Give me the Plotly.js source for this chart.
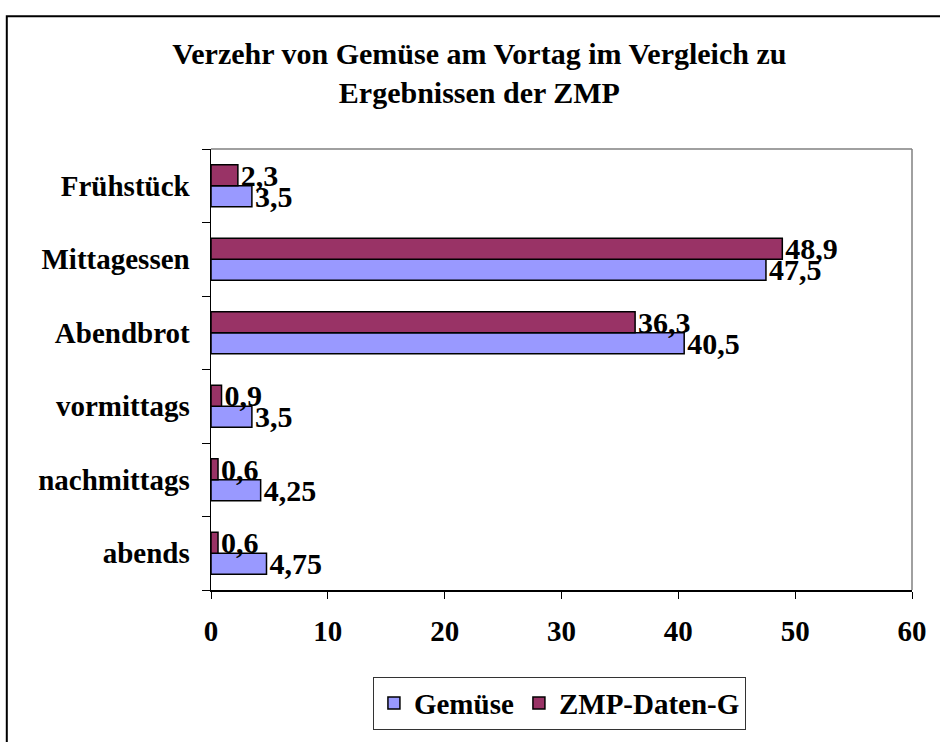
<!DOCTYPE html>
<html>
<head>
<meta charset="utf-8">
<script src="https://cdn.plot.ly/plotly-3.0.1.min.js"></script>
<style>html,body{margin:0;padding:0;background:#fff;}#chart{width:940px;height:742px;}</style>
</head>
<body>
<div id="chart"></div>
<script>
var categories = ["Frühstück", "Mittagessen", "Abendbrot", "vormittags", "nachmittags", "abends"];
var gemuese = [3.5, 47.5, 40.5, 3.5, 4.25, 4.75];
var zmp = [2.3, 48.9, 36.3, 0.9, 0.6, 0.6];
var gemueseLabels = ["3,5", "47,5", "40,5", "3,5", "4,25", "4,75"];
var zmpLabels = ["2,3", "48,9", "36,3", "0,9", "0,6", "0,6"];
var xTicks = [0, 10, 20, 30, 40, 50, 60];

var F = "Liberation Serif, Times New Roman, serif";
var labelFont = {family: F, size: 30, color: "#000", weight: "bold"};

var traces = [
  {
    type: "bar", orientation: "h", name: "Gemüse",
    y: categories, x: gemuese, text: gemueseLabels,
    textposition: "outside", constraintext: "none", cliponaxis: false,
    textfont: labelFont,
    marker: {color: "#9999FF", line: {color: "#000", width: 1.5}},
    hoverinfo: "x+y"
  },
  {
    type: "bar", orientation: "h", name: "ZMP-Daten-G",
    y: categories, x: zmp, text: zmpLabels,
    textposition: "outside", constraintext: "none", cliponaxis: false,
    textfont: labelFont,
    marker: {color: "#993366", line: {color: "#000", width: 1.5}},
    hoverinfo: "x+y"
  }
];

var layout = {
  width: 940, height: 742,
  paper_bgcolor: "#fff", plot_bgcolor: "#fff",
  margin: {l: 211, r: 28, t: 149, b: 135, pad: 0},
  barmode: "group", bargap: 0.43, bargroupgap: 0,
  font: {family: F, color: "#000"},
  title: {
    text: "Verzehr von Gemüse am Vortag im Vergleich zu<br>Ergebnissen der ZMP",
    font: {family: F, size: 30, color: "#000", weight: "bold"},
    x: 0.51, xanchor: "center", xref: "container",
    y: 0.914, yanchor: "top", yref: "container"
  },
  xaxis: {
    range: [0, 60], tickvals: xTicks, ticktext: xTicks.map(String),
    showgrid: false, zeroline: false,
    showline: true, linecolor: "#000", linewidth: 1.5,
    ticks: "outside", ticklen: 7, tickcolor: "#000", tickwidth: 1,
    ticklabelstandoff: 8,
    tickfont: {family: F, size: 29, color: "#000", weight: "bold"}
  },
  yaxis: {
    type: "category",
    categoryorder: "array", categoryarray: categories.slice().reverse(),
    showgrid: false, zeroline: false,
    showline: true, linecolor: "#000", linewidth: 1.5,
    ticks: "outside", tickson: "boundaries", ticklen: 8, tickcolor: "#000", tickwidth: 1,
    ticklabelstandoff: 14,
    tickfont: {family: F, size: 29, color: "#000", weight: "bold"}
  },
  showlegend: true,
  legend: {
    orientation: "h", x: 0.231, xanchor: "left", y: -0.1965, yanchor: "top",
    bordercolor: "#333", borderwidth: 1, bgcolor: "#fff",
    font: {family: F, size: 29, color: "#000", weight: "bold"},
    itemwidth: 30, tracegroupgap: 0, traceorder: "normal"
  },
  shapes: [
    {type: "line", xref: "paper", yref: "paper", x0: 0, x1: 1, y0: 1, y1: 1, line: {color: "#808080", width: 1.5}},
    {type: "line", xref: "paper", yref: "paper", x0: 1, x1: 1, y0: 0, y1: 1, line: {color: "#808080", width: 1.5}},
    {type: "rect", xref: "paper", yref: "paper", x0: -0.2913, x1: 1.2, y0: -0.5, y1: 1.3013, line: {color: "#000", width: 2}, fillcolor: "rgba(0,0,0,0)", layer: "below"}
  ]
};

Plotly.newPlot("chart", traces, layout, {displayModeBar: false, staticPlot: true});
</script>
</body>
</html>
